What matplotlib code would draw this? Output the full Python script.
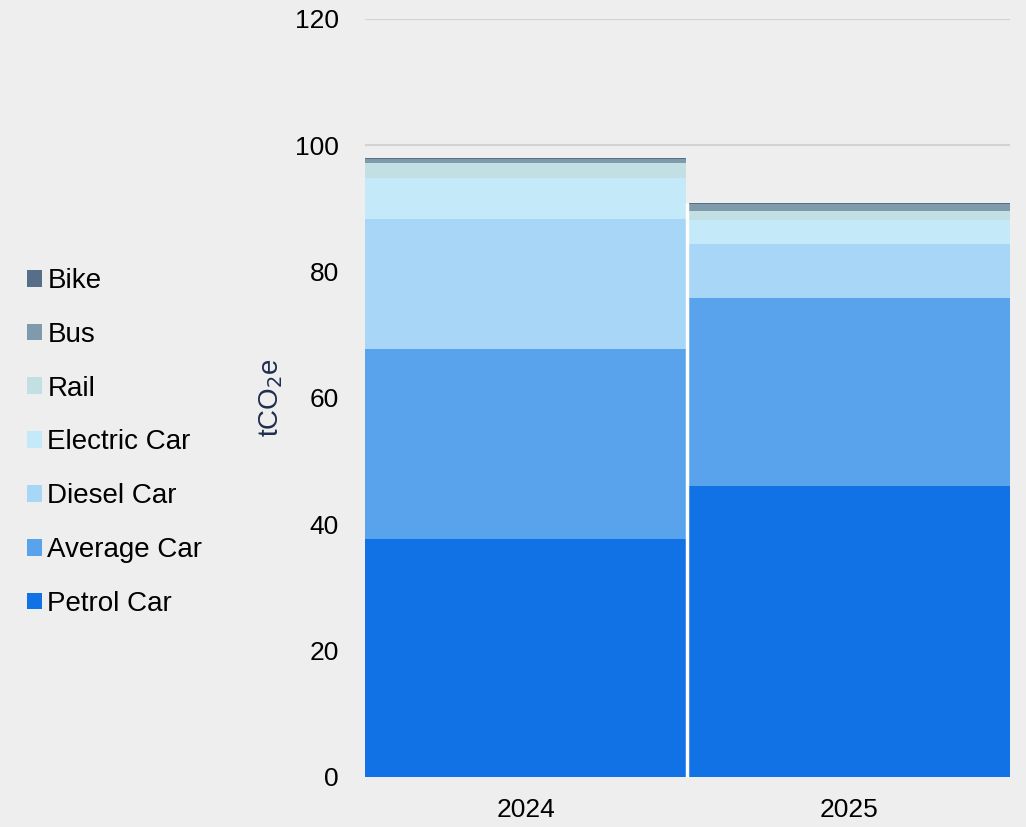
import matplotlib.pyplot as plt
import numpy as np

# ─── DATA ────────────────────────────────────────────────────────────────────
years = ["2024", "2025"]
categories = ["Petrol Car", "Average Car", "Diesel Car", "Electric Car", "Rail", "Bus", "Bike"]
petrol_car = [37.7, 46.0]
average_car = [30.0, 29.8]
diesel_car = [20.6, 8.5]
electric_car = [6.4, 3.8]
rail = [2.4, 1.5]
bus = [0.7, 1.1]
bike = [0.1, 0.1]

series = [petrol_car, average_car, diesel_car, electric_car, rail, bus, bike]
colors = ["#1172e6", "#59a3ec", "#a7d6f7", "#c4eafa", "#c2e0e4", "#7f9aab", "#566e88"]

plt.rcParams["font.family"] = ["Liberation Sans", "DejaVu Sans"]
BG = "#eeeeee"

fig = plt.figure(figsize=(10.26, 8.27), dpi=100, facecolor=BG)
ax = fig.add_axes([0.356, 0.0605, 0.628, 0.917], facecolor=BG)

x = np.arange(len(years))
bottom = np.zeros(len(years))
handles = []
for vals, col, name in zip(series, colors, categories):
    h = ax.bar(x, vals, width=0.99, bottom=bottom, color=col, edgecolor="none",
               label=name, zorder=3)
    handles.append(h)
    bottom += np.array(vals)

# thin white separator between the two columns (only where both bars exist)
ax.vlines(0.5, 0, bottom.min(), color="white", linewidth=2.5, zorder=4)

ax.set_xlim(-0.495, 1.495)
ax.set_ylim(0, 120)
ax.set_yticks(range(0, 121, 20))
ax.set_xticks(x)
ax.set_xticklabels(years)
ax.yaxis.grid(True, color="#d2d2d2", linewidth=1.5, zorder=0)
ax.set_axisbelow(True)
for s in ax.spines.values():
    s.set_visible(False)
ax.tick_params(axis="both", length=0, labelsize=19, colors="black")
ax.tick_params(axis="y", pad=19)
ax.tick_params(axis="x", pad=15)

ax.set_ylabel("tCO$_2$e", fontsize=20, color="#1f2d4f", labelpad=7)

fig.legend(handles[::-1], categories[::-1], loc="center left",
           bbox_to_anchor=(0.002, 0.465), frameon=False, fontsize=20,
           handlelength=0.55, handleheight=0.55, handletextpad=0.18,
           labelspacing=1.0)

fig.savefig("out.png", dpi=100, facecolor=BG)
